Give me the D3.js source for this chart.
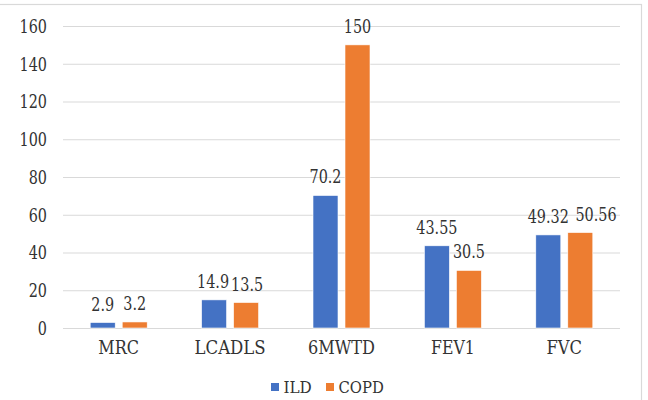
<!DOCTYPE html>
<html><head><meta charset="utf-8">
<script src="https://cdn.jsdelivr.net/npm/d3@7"></script>
<style>
html,body{margin:0;padding:0;background:#fff;}
svg{display:block;}
</style></head>
<body>
<script>
const categories = ["MRC","LCADLS","6MWTD","FEV1","FVC"];
const seriesNames = ["ILD","COPD"];
const ildValues = [2.9, 14.9, 70.2, 43.55, 49.32];
const copdValues = [3.2, 13.5, 150, 30.5, 50.56];
const ildLabels = ["2.9","14.9","70.2","43.55","49.32"];
const copdLabels = ["3.2","13.5","150","30.5","50.56"];
const yTicks = [0,20,40,60,80,100,120,140,160];
const colors = {ILD:"#4472C4", COPD:"#ED7D31"};

(function(){
const W = 648, H = 400;
const FONT = "DejaVu Serif";
const FS = 18, HS = 18.3;
const TXT = "#333333";
const adv = {".":0.25,M:0.889,R:0.667,C:0.667,L:0.611,A:0.722,D:0.722,S:0.556,W:0.944,T:0.611,F:0.556,E:0.611,V:0.722,I:0.333,O:0.722,P:0.556};
const tw = (s, size) => [...String(s)].reduce((a,c)=>a + (/[0-9]/.test(c) ? 0.5 : (adv[c]||0.6)), 0) * size;
const styleText = (sel, size, hsize) => sel.attr("font-family",FONT).attr("font-size",size).attr("fill",TXT)
  .attr("lengthAdjust","spacingAndGlyphs").attr("textLength", function(){ return tw(this.textContent, hsize); });

const svg = d3.select("body").append("svg").attr("width", W).attr("height", H);

svg.append("rect").attr("x",-2).attr("y",4.5).attr("width",643.5).attr("height",400)
  .attr("fill","none").attr("stroke","#d9d9d9").attr("stroke-width",1.2);

const pL = 63, pR = 620, pT = 26, pB = 328;
const x0 = d3.scaleBand().domain(categories).range([pL,pR]).paddingInner(0).paddingOuter(0);
const bw = x0.bandwidth();
const x1 = d3.scaleBand().domain(seriesNames).range([bw/2-28.5, bw/2+28.5]).paddingInner(0.21875).paddingOuter(0);
const y = d3.scaleLinear().domain([0,160]).range([pB, pT]);

const yAxis = d3.axisLeft(y).tickValues(yTicks).tickSize(-(pR-pL)).tickFormat(d3.format("d"));
const gy = svg.append("g").attr("transform",`translate(${pL},0)`).call(yAxis);
gy.attr("font-family",FONT);
gy.select(".domain").remove();
gy.selectAll(".tick line").attr("stroke","#d9d9d9").attr("stroke-width",1);
gy.selectAll(".tick text").attr("x",-16).attr("dy","0.36em").attr("text-anchor","end")
  .call(styleText, FS, HS);

const xAxis = d3.axisBottom(x0).tickSize(0).tickPadding(0);
const gx = svg.append("g").attr("transform",`translate(0,${pB})`).call(xAxis);
gx.attr("font-family",FONT);
gx.select(".domain").remove();
gx.selectAll(".tick text").attr("y",26).attr("dy",0).attr("text-anchor","middle")
  .call(styleText, FS, HS);

const data = categories.map((c,i)=>{
  const vals = [
    {s:"ILD", v:ildValues[i], l:ildLabels[i]},
    {s:"COPD", v:copdValues[i], l:copdLabels[i]}];
  vals.forEach(d=>{ d.cx = x1(d.s)+x1.bandwidth()/2; d.w = tw(d.l, HS); d.ly = y(d.v)-12; });
  const a = vals[0], b = vals[1];
  const overlap = (a.cx + a.w/2) - (b.cx - b.w/2);
  if (Math.abs(a.ly - b.ly) < 14) {
    if (overlap > 2) b.cx += overlap + 6.5;          // push right label clear
    else if (overlap > -2) { a.cx -= (overlap+2)/2; b.cx += (overlap+2)/2; }
  }
  return {cat:c, vals};
});

const groups = svg.selectAll("g.cat").data(data).enter().append("g").attr("class","cat")
  .attr("transform",d=>`translate(${x0(d.cat)},0)`);

groups.selectAll("rect").data(d=>d.vals).enter().append("rect")
  .attr("x",d=>x1(d.s)).attr("width",x1.bandwidth())
  .attr("y",d=>y(d.v)).attr("height",d=>y(0)-y(d.v))
  .attr("fill",d=>colors[d.s]).attr("stroke","#fff").attr("stroke-width",0.6);

groups.selectAll("text.lab").data(d=>d.vals).enter().append("text").attr("class","lab")
  .attr("x",d=>d.cx).attr("y",d=>d.ly)
  .attr("text-anchor","middle").text(d=>d.l)
  .call(styleText, FS, HS);

const legend = [{s:"ILD", x:271}, {s:"COPD", x:326}];
const lg = svg.selectAll("g.leg").data(legend).enter().append("g").attr("class","leg");
lg.append("rect").attr("x",d=>d.x).attr("y",383).attr("width",8).attr("height",8).attr("fill",d=>colors[d.s]);
lg.append("text").attr("x",d=>d.x+12.5).attr("y",393).text(d=>d.s)
  .call(styleText, 16, 17);
})();
</script>
</body></html>
